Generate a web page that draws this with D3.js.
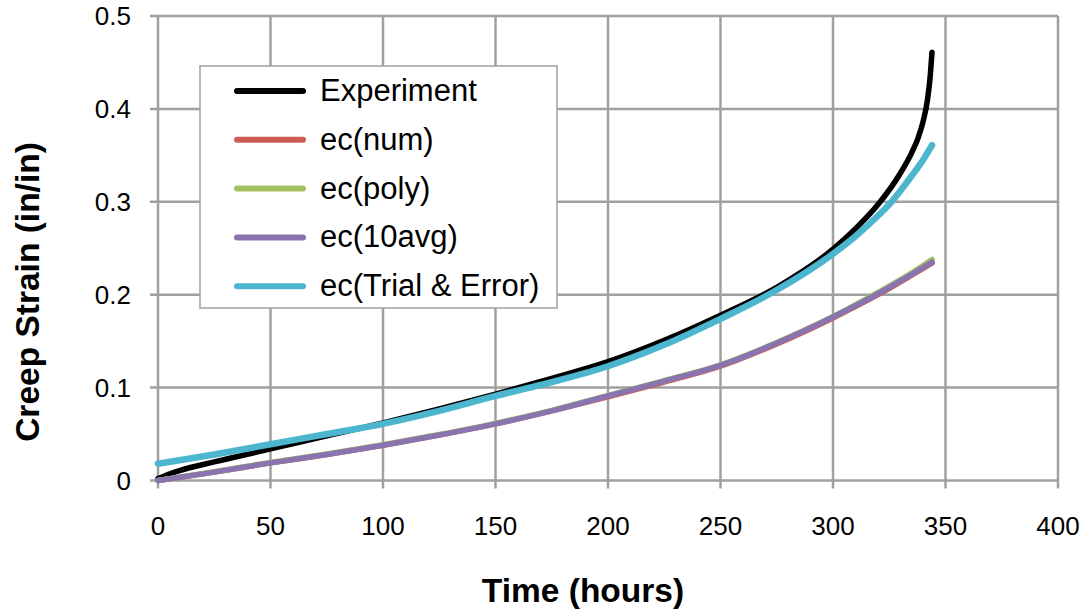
<!DOCTYPE html>
<html>
<head>
<meta charset="utf-8">
<script src="https://cdn.jsdelivr.net/npm/d3@7"></script>
<style>
  body { margin: 0; background: #fff; }
  svg { display: block; font-family: "Liberation Sans", Arial, sans-serif; }
  .grid line { stroke: #a0a0a0; stroke-width: 2.5; }
  .tick-label { font-size: 26px; fill: #000; }
  .axis-title { font-size: 33.5px; font-weight: bold; fill: #000; }
  .legend-text { font-size: 31px; fill: #000; }
</style>
</head>
<body>
<svg id="chart"></svg>
<script>
const WIDTH = 1086;
const HEIGHT = 614;

// time (hours) sample points for each series
const expTime = [0, 5, 10, 25, 50, 75, 100, 125, 150, 175, 200, 225, 250, 275, 300, 310, 320, 330, 335, 338, 340, 342, 343, 344];
const expStrain = [0.002, 0.007, 0.011, 0.020, 0.034, 0.048, 0.062, 0.077, 0.093, 0.110, 0.128, 0.151, 0.178, 0.208, 0.249, 0.271, 0.297, 0.331, 0.353, 0.370, 0.386, 0.410, 0.430, 0.461];

const fitTime = [0, 25, 50, 75, 100, 125, 150, 175, 200, 225, 250, 275, 300, 320, 335, 344];
const numStrain = [0, 0.009, 0.019, 0.028, 0.038, 0.049, 0.061, 0.075, 0.090, 0.106, 0.123, 0.147, 0.175, 0.200, 0.221, 0.234];
const polyStrain = [0, 0.0095, 0.0195, 0.0285, 0.0385, 0.0495, 0.0615, 0.0755, 0.0915, 0.1075, 0.1245, 0.1485, 0.1765, 0.2025, 0.2235, 0.238];
const avgStrain = [0, 0.009, 0.019, 0.028, 0.038, 0.049, 0.061, 0.075, 0.091, 0.107, 0.124, 0.148, 0.176, 0.201, 0.222, 0.235];

const trialTime = [0, 25, 50, 75, 100, 125, 150, 175, 200, 225, 250, 275, 300, 310, 320, 326, 330, 335, 340, 344];
const trialStrain = [0.018, 0.028, 0.039, 0.050, 0.061, 0.075, 0.091, 0.106, 0.123, 0.146, 0.174, 0.205, 0.244, 0.263, 0.285, 0.300, 0.312, 0.328, 0.345, 0.361];

const xTicks = [0, 50, 100, 150, 200, 250, 300, 350, 400];
const yTicks = [0, 0.1, 0.2, 0.3, 0.4, 0.5];

const series = [
  { name: "Experiment", x: expTime, y: expStrain, color: "#000000", width: 5.5 },
  { name: "ec(num)", x: fitTime, y: numStrain, color: "#cd5c57", width: 5.5 },
  { name: "ec(poly)", x: fitTime, y: polyStrain, color: "#a3c163", width: 5.5 },
  { name: "ec(10avg)", x: fitTime, y: avgStrain, color: "#8a74b0", width: 5.5 },
  { name: "ec(Trial & Error)", x: trialTime, y: trialStrain, color: "#4db6cf", width: 6.5 },
];

const svg = d3.select("#chart").attr("width", WIDTH).attr("height", HEIGHT);

const x = d3.scaleLinear().domain([0, 400]).range([158, 1058]);
const y = d3.scaleLinear().domain([0, 0.5]).range([480.5, 16]);

// gridlines + tick marks
const grid = svg.append("g").attr("class", "grid");
grid.selectAll(".v")
  .data(xTicks)
  .join("line")
  .attr("class", "v")
  .attr("x1", (d) => x(d))
  .attr("x2", (d) => x(d))
  .attr("y1", y(0.5))
  .attr("y2", y(0) + 8);
grid.selectAll(".h")
  .data(yTicks)
  .join("line")
  .attr("class", "h")
  .attr("x1", x(0) - 8)
  .attr("x2", x(400))
  .attr("y1", (d) => y(d))
  .attr("y2", (d) => y(d));

svg.append("g")
  .selectAll("text")
  .data(xTicks)
  .join("text")
  .attr("class", "tick-label")
  .attr("x", (d) => x(d))
  .attr("y", 535)
  .attr("text-anchor", "middle")
  .text((d) => d);

svg.append("g")
  .selectAll("text")
  .data(yTicks)
  .join("text")
  .attr("class", "tick-label")
  .attr("x", 131)
  .attr("y", (d) => y(d) + 9)
  .attr("text-anchor", "end")
  .text((d) => d);

// curves
const line = d3.line()
  .x((d) => x(d[0]))
  .y((d) => y(d[1]))
  .curve(d3.curveMonotoneX);

svg.append("g")
  .selectAll("path")
  .data(series)
  .join("path")
  .attr("fill", "none")
  .attr("stroke", (s) => s.color)
  .attr("stroke-width", (s) => s.width)
  .attr("stroke-linecap", "round")
  .attr("stroke-linejoin", "round")
  .attr("d", (s) => line(s.x.map((t, i) => [t, s.y[i]])));

// legend
const legend = svg.append("g").attr("transform", "translate(200, 66)");
legend.append("rect")
  .attr("width", 357)
  .attr("height", 242)
  .attr("fill", "#fff")
  .attr("stroke", "#a0a0a0")
  .attr("stroke-width", 1.5);
const items = legend.selectAll("g")
  .data(series)
  .join("g")
  .attr("transform", (d, i) => `translate(0, ${25 + i * 48.8})`);
items.append("line")
  .attr("x1", 37)
  .attr("x2", 103)
  .attr("stroke", (s) => s.color)
  .attr("stroke-width", 6)
  .attr("stroke-linecap", "round");
items.append("text")
  .attr("class", "legend-text")
  .attr("x", 120)
  .attr("y", 10)
  .text((s) => s.name);

// axis titles
svg.append("text")
  .attr("class", "axis-title")
  .attr("x", 583)
  .attr("y", 602)
  .attr("text-anchor", "middle")
  .text("Time (hours)");

svg.append("text")
  .attr("class", "axis-title")
  .attr("transform", "translate(39, 292) rotate(-90)")
  .attr("text-anchor", "middle")
  .text("Creep Strain (in/in)");
</script>
</body>
</html>
